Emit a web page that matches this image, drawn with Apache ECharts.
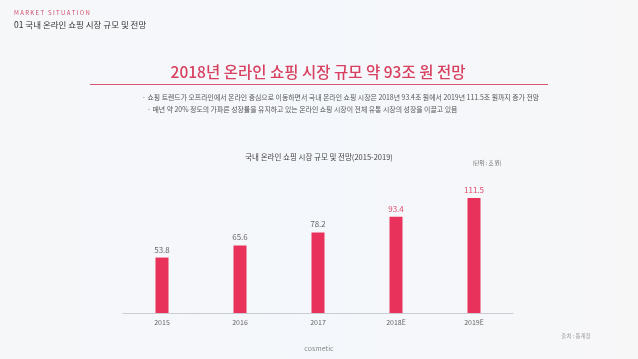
<!DOCTYPE html>
<html><head><meta charset="utf-8">
<script src="https://cdn.jsdelivr.net/npm/echarts@6/dist/echarts.min.js"></script>
<style>html,body{margin:0;padding:0;background:#f5f7fa;}#c{width:638px;height:359px;}</style>
</head><body><div id="c"></div>
<script>
const categories = ['2015', '2016', '2017', '2018E', '2019E'];
const values = [53.8, 65.6, 78.2, 93.4, 111.5];
const labelColors = ['#666666', '#666666', '#666666', '#e0496c', '#e0496c'];
const F = '"Noto Sans CJK KR", "Noto Sans", sans-serif';
const chart = echarts.init(document.getElementById('c'), null, {renderer: 'canvas'});
chart.setOption({
  backgroundColor: {
    type: 'linear', x: 0, y: 0, x2: 1, y2: 0,
    colorStops: [{offset: 0, color: '#f6f7f9'}, {offset: 0.5, color: '#f4f7fb'}, {offset: 1, color: '#f7f7f8'}]
  },
  animation: false,
  grid: {left: 123, right: 125, top: 179, bottom: 46},
  xAxis: {
    type: 'category', data: categories,
    axisLine: {lineStyle: {color: '#c9ccd2', width: 1}},
    axisTick: {show: false},
    axisLabel: {color: '#666', fontSize: 7, fontFamily: F, margin: 6}
  },
  yAxis: {type: 'value', min: 0, max: 130, show: false, splitLine: {show: false}},
  series: [{
    type: 'bar', barWidth: 13,
    data: values.map((v, i) => ({value: v, label: {color: labelColors[i]}})),
    itemStyle: {color: '#e9325b'},
    label: {show: true, position: 'top', distance: 4, fontSize: 8, fontFamily: F}
  }],
  graphic: [
    {type: 'text', left: 14, top: 10, style: {text: 'M A R K E T   S I T U A T I O N', fill: '#d0506e', font: '6px ' + F}},
    {type: 'text', left: 14, top: 21, style: {text: '01 국내 온라인 쇼핑 시장 규모 및 전망', fill: '#333', font: '8.5px ' + F}},
    {type: 'text', x: 318, y: 72, style: {text: '2018년 온라인 쇼핑 시장 규모 약 93조 원 전망', fill: '#d8405f', font: '500 15.5px ' + F, align: 'center', verticalAlign: 'middle'}},
    {type: 'line', shape: {x1: 90, y1: 84.5, x2: 548, y2: 84.5}, style: {stroke: '#d8566f', lineWidth: 1}},
    {type: 'text', left: 142, top: 94, style: {text: '· 쇼핑 트렌드가 오프라인에서 온라인 중심으로 이동하면서 국내 온라인 쇼핑 시장은 2018년 93.4조 원에서 2019년 111.5조 원까지 증가 전망', fill: '#555', font: '6.9px ' + F}},
    {type: 'text', left: 147, top: 106, style: {text: '· 매년 약 20% 정도의 가파른 성장률을 유지하고 있는 온라인 쇼핑 시장이 전체 유통 시장의 성장을 이끌고 있음', fill: '#555', font: '6.9px ' + F}},
    {type: 'text', x: 319, y: 157, style: {text: '국내 온라인 쇼핑 시장 규모 및 전망(2015-2019)', fill: '#444', font: '7.5px ' + F, align: 'center', verticalAlign: 'middle'}},
    {type: 'text', x: 487, y: 163, style: {text: '(단위 : 조 원)', fill: '#666', font: '5.5px ' + F, align: 'center', verticalAlign: 'middle'}},
    {type: 'text', x: 576, y: 336, style: {text: '출처 : 통계청', fill: '#999', font: '5.5px ' + F, align: 'center', verticalAlign: 'middle'}},
    {type: 'text', x: 319, y: 348, style: {text: 'cosmetic', fill: '#888', font: '7px ' + F, align: 'center', verticalAlign: 'middle'}}
  ]
});
</script></body></html>
